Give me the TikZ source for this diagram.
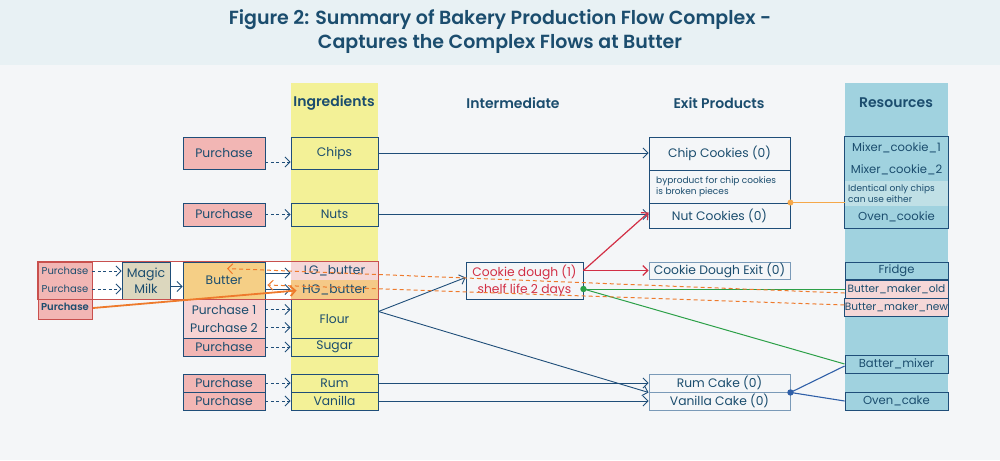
\documentclass[tikz,border=0pt]{standalone}
\usepackage{fontspec}
\setmainfont{Poppins}[BoldFont={* SemiBold}]
\usetikzlibrary{arrows.meta,calc}
\definecolor{bg}{HTML}{F4F6F8}
\definecolor{titlebg}{HTML}{E8F1F4}
\definecolor{tx}{HTML}{1B4D6E}
\definecolor{bord}{HTML}{1F4E79}
\definecolor{bord2}{HTML}{7A9AB8}
\definecolor{pinkA}{HTML}{F2B6B4}
\definecolor{pinkB}{HTML}{F6D3D3}
\definecolor{yel}{HTML}{F3F197}
\definecolor{butc}{HTML}{F5CF86}
\definecolor{hgc}{HTML}{F5C987}
\definecolor{lgc}{HTML}{F5D7D7}
\definecolor{milk}{HTML}{DCD7BE}
\definecolor{resb}{HTML}{A0D2DF}
\definecolor{resl}{HTML}{C0E0E6}
\definecolor{redc}{HTML}{D22F45}
\definecolor{redb}{HTML}{C8504E}
\definecolor{oran}{HTML}{EE7A2C}
\definecolor{lorange}{HTML}{F5A84A}
\definecolor{grn}{HTML}{2CA048}
\definecolor{bln}{HTML}{2F5FA8}
\newcommand\bx[7]{\node[#6,minimum width={(#4)-(#2)},minimum height={(#5)-(#3)}] (#1) at ({((#2)+(#4))/2},{((#3)+(#5))/2}) {#7};}
\begin{document}
\begin{tikzpicture}[x=1pt,y=-1pt,
  box/.style={draw=bord, line width=0.9pt, inner sep=0pt, text=tx, font=\fontsize{12.3}{15}\selectfont, align=center},
  pur/.style={box, fill=pinkA},
  ing/.style={box, fill=yel},
  res/.style={box, fill=resb, font=\fontsize{11.6}{13}\selectfont},
  exitbox/.style={box, fill=bg},
  lbl/.style={inner sep=0pt, text=tx, font=\fontsize{12.3}{15}\selectfont},
  small/.style={inner sep=0pt, text=tx, font=\fontsize{10}{12}\selectfont},
  tiny/.style={inner sep=0pt, text=tx, font=\fontsize{9}{11}\selectfont, align=left},
  hdr/.style={inner sep=0pt, text=tx, font=\bfseries\fontsize{14}{16}\selectfont},
  tip/.style={-{Straight Barb[length=5pt,width=10pt]}},
  flow/.style={draw=bord, line width=0.9pt, tip},
  dflow/.style={flow, dash pattern=on 3pt off 2.5pt},
  rflow/.style={draw=redc, line width=1.2pt, tip},
  odash/.style={draw=oran, line width=1pt, dash pattern=on 4pt off 3pt, tip},
  oarrow/.style={draw=oran, line width=1.8pt, tip},
  oline/.style={draw=lorange, line width=1.2pt},
  gline/.style={draw=grn, line width=1pt},
  bline/.style={draw=bln, line width=1.1pt}]
\useasboundingbox (0,0) rectangle (1000,460);
\fill[bg] (0,0) rectangle (1000,460);
\fill[titlebg] (0,0) rectangle (1000,65);
\node[text=tx, font=\bfseries\fontsize{19}{24}\selectfont, align=center] (title) at (500,32) {Figure 2: Summary of Bakery Production Flow Complex -\\Captures the Complex Flows at Butter};
% column backgrounds
\fill[yel] (291,83) rectangle (378,410);
\fill[resb] (845,83) rectangle (948,410);
\node[hdr] (h1) at (334,103) {Ingredients};
\node[hdr] (h2) at (513,103) {Intermediate};
\node[hdr] (h3) at (719,103) {Exit Products};
\node[hdr] (h4) at (896,103) {Resources};
% ingredients
\bx{pch}{183}{137}{265}{169}{pur}{Purchase}
\bx{chips}{291}{137}{378}{169}{ing}{Chips}
\bx{pnu}{183}{203}{265}{226}{pur}{Purchase}
\bx{nuts}{291}{203}{378}{226}{ing}{Nuts}
% butter group
\fill[white] (92,262) rectangle (291,299);
\bx{p3}{38}{262}{92}{319}{pur, draw=redb}{}
\node[small] (p3a) at (65,271) {Purchase};
\node[small] (p3b) at (65,289) {Purchase};
\node[small, font=\bfseries\fontsize{10}{12}\selectfont] (p3c) at (65,307) {Purchase};
\bx{mm}{122}{262}{170}{299}{box, fill=milk, font=\fontsize{12.5}{16}\selectfont}{Magic\\Milk}
\bx{butter}{183}{262}{265}{299}{box, fill=butc}{Butter}
\bx{p12}{183}{299}{265}{338}{box, fill=pinkB}{}
\node[lbl] (pu1) at (224,309.5) {Purchase 1};
\node[lbl] (pu2) at (224,327.5) {Purchase 2};
\bx{psu}{183}{338}{265}{356}{pur}{Purchase}
\bx{lg}{291}{262}{378}{280}{box, draw=none, fill=lgc}{LG\_butter}
\bx{hg}{291}{280}{378}{299}{box, draw=none, fill=hgc}{HG\_butter}
\bx{flour}{291}{299}{378}{338}{ing}{Flour}
\bx{sugar}{291}{338}{378}{356}{ing}{Sugar}
\draw[redb, line width=1pt] (p3.north west) rectangle (hg.south east);
\bx{prum}{183}{374}{265}{392}{pur}{Purchase}
\bx{rum}{291}{374}{378}{392}{ing}{Rum}
\bx{pva}{183}{392}{265}{410}{pur}{Purchase}
\bx{van}{291}{392}{378}{410}{ing}{Vanilla}
% intermediate
\bx{cd}{466}{262}{583}{299}{box, fill=bg, text=redc, font=\fontsize{12.3}{17}\selectfont}{Cookie dough (1)\\shelf life 2 days}
% exit products
\bx{chipc}{649}{137}{790}{170}{exitbox}{Chip Cookies (0)}
\bx{byp}{649}{170}{790}{203}{exitbox}{}
\node[tiny, anchor=west] (bypt) at (656,186.5) {byproduct for chip cookies\\is broken pieces};
\bx{nutc}{649}{203}{790}{228}{exitbox}{Nut Cookies (0)}
\bx{cde}{649}{262}{790}{279}{exitbox, draw=bord2, line width=0.8pt}{Cookie Dough Exit (0)}
\bx{rumc}{649}{374}{790}{392}{exitbox, draw=bord2}{Rum Cake (0)}
\bx{vanc}{649}{392}{790}{410}{exitbox, draw=bord2}{Vanilla Cake (0)}
% resources
\bx{mix1}{845}{137}{948}{159}{res, draw=none}{Mixer\_cookie\_1}
\bx{mix2}{845}{159}{948}{181}{res, draw=none}{Mixer\_cookie\_2}
\bx{ident}{845}{181}{948}{206}{res, draw=none, fill=resl}{}
\node[tiny, anchor=west] (identt) at (848,193.5) {Identical only chips\\can use either};
\bx{ovenc}{845}{206}{948}{228}{res, draw=none}{Oven\_cookie}
\draw[bord, line width=0.9pt] (mix1.north west) rectangle (ovenc.south east);
\bx{fridge}{845}{262}{948}{279}{res}{Fridge}
\bx{bmo}{845}{280}{948}{298}{res, fill=lgc, font=\fontsize{10.6}{13}\selectfont}{Butter\_maker\_old}
\bx{bmn}{845}{298}{948}{316}{res, fill=lgc, font=\fontsize{10.6}{13}\selectfont}{Butter\_maker\_new}
\bx{batter}{845}{355}{948}{373}{res}{Batter\_mixer}
\bx{ovenk}{845}{392}{948}{410}{res}{Oven\_cake}
% dashed purchase arrows
\draw[dflow] ($(pch.east)+(0,9)$) -- ($(chips.west)+(0,9)$);
\draw[dflow] (pnu.east) -- (nuts.west);
\draw[dflow] (p3a -| p3.east) -- (p3a -| mm.west);
\draw[dflow] (p3b -| p3.east) -- (p3b -| mm.west);
\draw[dflow] (pu1 -| p12.east) -- (pu1 -| flour.west);
\draw[dflow] (pu2 -| p12.east) -- (pu2 -| flour.west);
\draw[dflow] (psu.east) -- (sugar.west);
\draw[dflow] (prum.east) -- (rum.west);
\draw[dflow] (pva.east) -- (van.west);
% solid flows
\draw[flow] ($(mm.east)+(0,6)$) -- ($(butter.west)+(0,6)$);
\draw[flow] ($(butter.east)+(0,-7.5)$) -- ($(lg.west)+(0,2)$);
\draw[flow] ($(butter.east)+(0,9)$) -- (hg.west);
\draw[flow] (chips.east) -- (chips.east -| chipc.west);
\draw[flow] (nuts.east) -- (nuts.east -| nutc.west);
\coordinate (fo) at ($(flour.east)+(0,-7)$);
\draw[flow] (fo) -- ($(cd.west)+(0,-3)$);
\draw[flow] (fo) -- (rumc.south west);
\draw[flow] (rum.east) -- (rum.east -| rumc.west);
\draw[flow] (van.east) -- (van.east -| vanc.west);
% red flows
\coordinate (cdo) at ($(cd.east)+(0,-10)$);
\draw[rflow] (cdo) -- ($(nutc.west)+(0,-3)$);
\draw[rflow] (cdo) -- (cdo -| cde.west);
% resource links
\draw[oline] (nutc.north east) -- (nutc.north east -| ident.west);
\fill[lorange] (nutc.north east) circle (3);
\draw[bline] (rumc.south east) -- ($(batter.west)+(0,2)$);
\draw[bline] (rumc.south east) -- (ovenk.west);
\fill[bln] (rumc.south east) circle (3.2);
\coordinate (gd) at ($(cd.east)+(0,8.5)$);
\draw[gline, line width=0.8pt] (gd) -- (gd -| bmo.west);
\draw[gline] (gd) -- (batter.west);
\fill[grn] (gd) circle (3.2);
% orange butter flows
\draw[odash] ($(bmo.west)+(0,4)$) -- ($(butter.north)+(3,7)$);
\draw[odash] ($(bmn.west)+(0,-2)$) -- ($(butter.east)+(2,4.5)$);
\draw[oarrow] ($(p3c.east)+(4,1)$) -- ($(hg.west)+(6,1)$);
\end{tikzpicture}
\end{document}
